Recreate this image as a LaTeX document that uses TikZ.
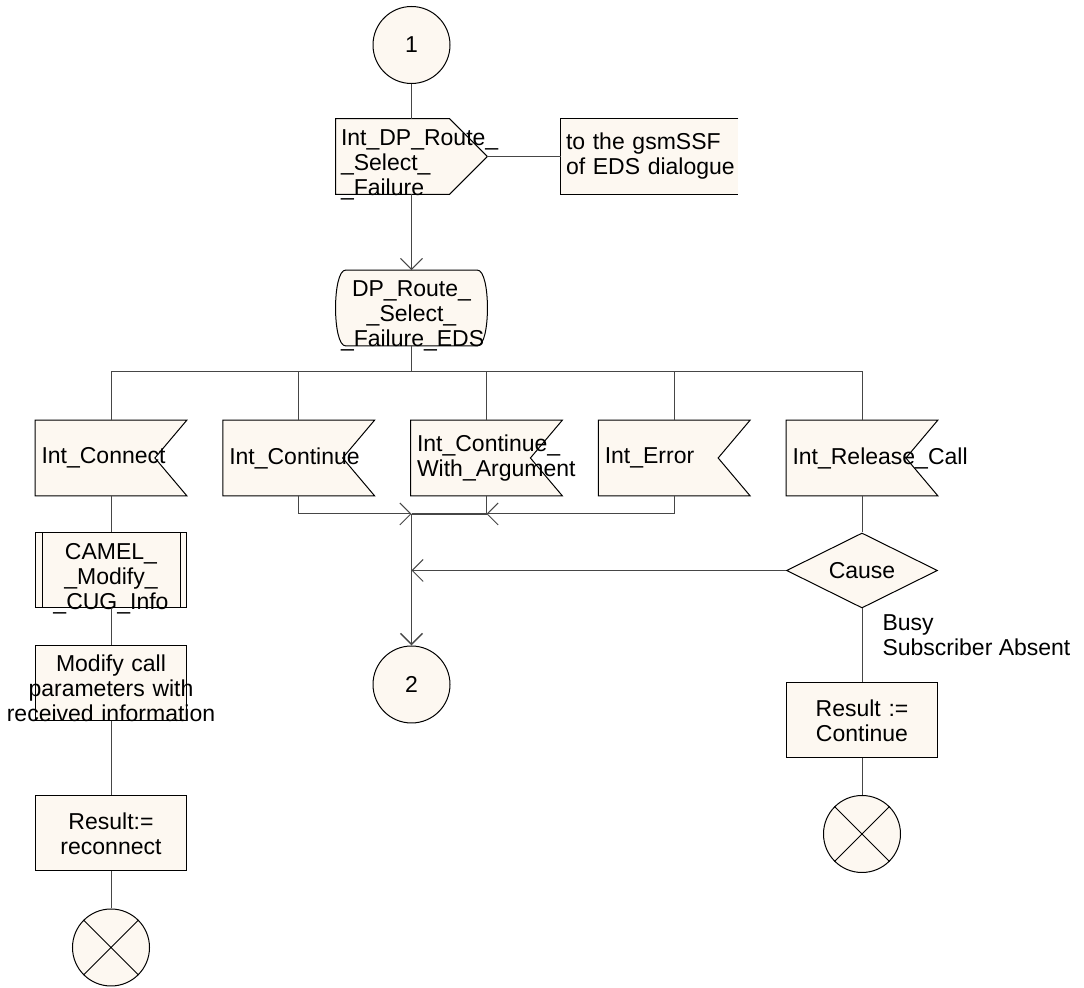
\documentclass[tikz,border=0pt]{standalone}
\usepackage{fontspec}
\setmainfont{Liberation Sans}
\usetikzlibrary{shapes.geometric, arrows.meta, backgrounds, positioning}

\definecolor{sdlfill}{RGB}{253,248,241}
\definecolor{sdlline}{RGB}{70,70,70}

\tikzset{
  symbox/.style={rectangle, minimum width=75.5pt, minimum height=37.5pt,
    text width=70.5pt, inner xsep=2.5pt, inner ysep=0pt, align=center},
  taskbox/.style={symbox, draw=black, line width=0.5pt, fill=sdlfill},
  flagbox/.style={symbox, text width=69.5pt, inner xsep=3pt, align=left},
  lowtext/.style={text height=12.4pt, text depth=23.4pt},
  connector/.style={circle, draw=black, line width=0.5pt, fill=sdlfill,
    minimum size=38.5pt, inner sep=0pt},
  outline/.style={draw=black, line width=0.5pt, fill=sdlfill},
  flow/.style={draw=sdlline, line width=0.5pt},
  arr/.style={-{Straight Barb[length=5.5pt,width=11pt]}},
}

\begin{document}
\begin{tikzpicture}[x=0.5pt, y=-0.5pt, font=\fontsize{11.5pt}{12.5pt}\selectfont]
  \useasboundingbox (0,0) rectangle (1084,988);

  % main column
  \node[connector] (c1) at (411.5,45) {1};
  \node[flagbox, lowtext, inner xsep=2.5pt, text width=70.5pt] (outfail) at (411.5,156.5)
    {Int\_DP\_Route\_\\\_Select\_\\\_Failure};
  \node[symbox, text width=83.5pt, fill=sdlfill, align=left] (cmt) at (649.5,156.5)
    {\mbox{to the gsmSSF}\\\mbox{of EDS dialogue}};
  \node[symbox, lowtext] (edsstate) at (411.5,308)
    {DP\_Route\_\\\_Select\_\\\_Failure\_EDS};

  % input signals
  \foreach \n/\lbl [count=\i from 0] in {inconn/{Int\_Connect},
      incont/{Int\_Continue}, inarg/{Int\_Continue\_\\With\_Argument},
      inerr/{Int\_Error}, inrel/{Int\_Release\_Call}}
    \node[flagbox] (\n) at (111+187.75*\i,458) {\lbl};

  % left branch
  \node[taskbox, lowtext] (proc) at (111,570.5) {CAMEL\_\\\_Modify\_\\\_CUG\_Info};
  \node[taskbox, lowtext] (mod) at (111,683)
    {Modify call\\\makebox[0pt]{parameters with}\\\makebox[0pt]{received information}};
  \node[taskbox] (rr) at (111,833.5) {Result:=\\reconnect};
  \node[connector] (t1) at (111,947.5) {};

  % right branch
  \node[diamond, aspect=2, outline, minimum width=75.5pt, minimum height=37.5pt,
    inner sep=0pt] (cause) at (862,570.5) {Cause};
  \node[taskbox] (rc) at (862,720.5) {Result :=\\Continue};
  \node[connector] (t2) at (862,834) {};

  \node[connector] (c2) at (411.5,684.5) {2};

  % symbol outlines behind the texts
  \begin{scope}[on background layer]
    \foreach \n in {inconn,incont,inarg,inerr,inrel}
      \draw[outline] (\n.north west) -- (\n.north east) -- ([xshift=-16pt]\n.east)
        -- (\n.south east) -- (\n.south west) -- cycle;
    \draw[outline] (outfail.north west) -- ([xshift=-19pt]outfail.north east)
      -- (outfail.east) -- ([xshift=-19pt]outfail.south east) -- (outfail.south west) -- cycle;
    \draw[outline] ([xshift=5pt]edsstate.north west) -- ([xshift=-5pt]edsstate.north east)
      .. controls ([xshift=1.7pt]edsstate.north east) and ([xshift=1.7pt]edsstate.south east)
      .. ([xshift=-5pt]edsstate.south east) -- ([xshift=5pt]edsstate.south west)
      .. controls ([xshift=-1.7pt]edsstate.south west) and ([xshift=-1.7pt]edsstate.north west)
      .. cycle;
  \end{scope}

  \draw[line width=0.5pt] (cmt.north east) -- (cmt.north west) -- (cmt.south west) -- (cmt.south east);
  \draw[line width=0.5pt] ([xshift=3.5pt]proc.north west) -- ([xshift=3.5pt]proc.south west)
    ([xshift=-3.5pt]proc.north east) -- ([xshift=-3.5pt]proc.south east);
  \foreach \n in {t1,t2}
    \draw[line width=0.5pt] (\n.north west) -- (\n.south east) (\n.north east) -- (\n.south west);

  % connectors
  \draw[flow] (c1) -- (outfail);
  \draw[flow] (outfail.east) -- (cmt.west);
  \draw[flow, arr] (outfail) -- (edsstate);

  \coordinate (bus) at (411.5,372);
  \foreach \n in {inconn,incont,inarg,inerr,inrel}
    \draw[flow] (edsstate.south) -- (bus) -| (\n.north);

  \coordinate (join) at (411.5,514);
  \coordinate (argjoin) at (inarg.south |- join);
  \draw[flow, arr] (incont.south) |- (join);
  \draw[flow, arr] (inerr.south) |- (argjoin);
  \draw[flow] (inarg.south) -- (argjoin);
  \draw[flow, line width=1pt] (argjoin) -- (join);
  \draw[flow, line width=0.75pt, arr] (join) -- (c2);

  \foreach \a/\b in {inconn/proc, proc/mod, mod/rr, rr/t1, inrel/cause, rc/t2}
    \draw[flow] (\a) -- (\b);
  \draw[flow, arr] (cause.west) -- (cause.west -| join);
  \draw[flow] (cause) -- node[pos=0, anchor=north west, xshift=7pt, inner sep=3pt, align=left]
    {Busy\\Subscriber Absent} (rc);
\end{tikzpicture}
\end{document}
